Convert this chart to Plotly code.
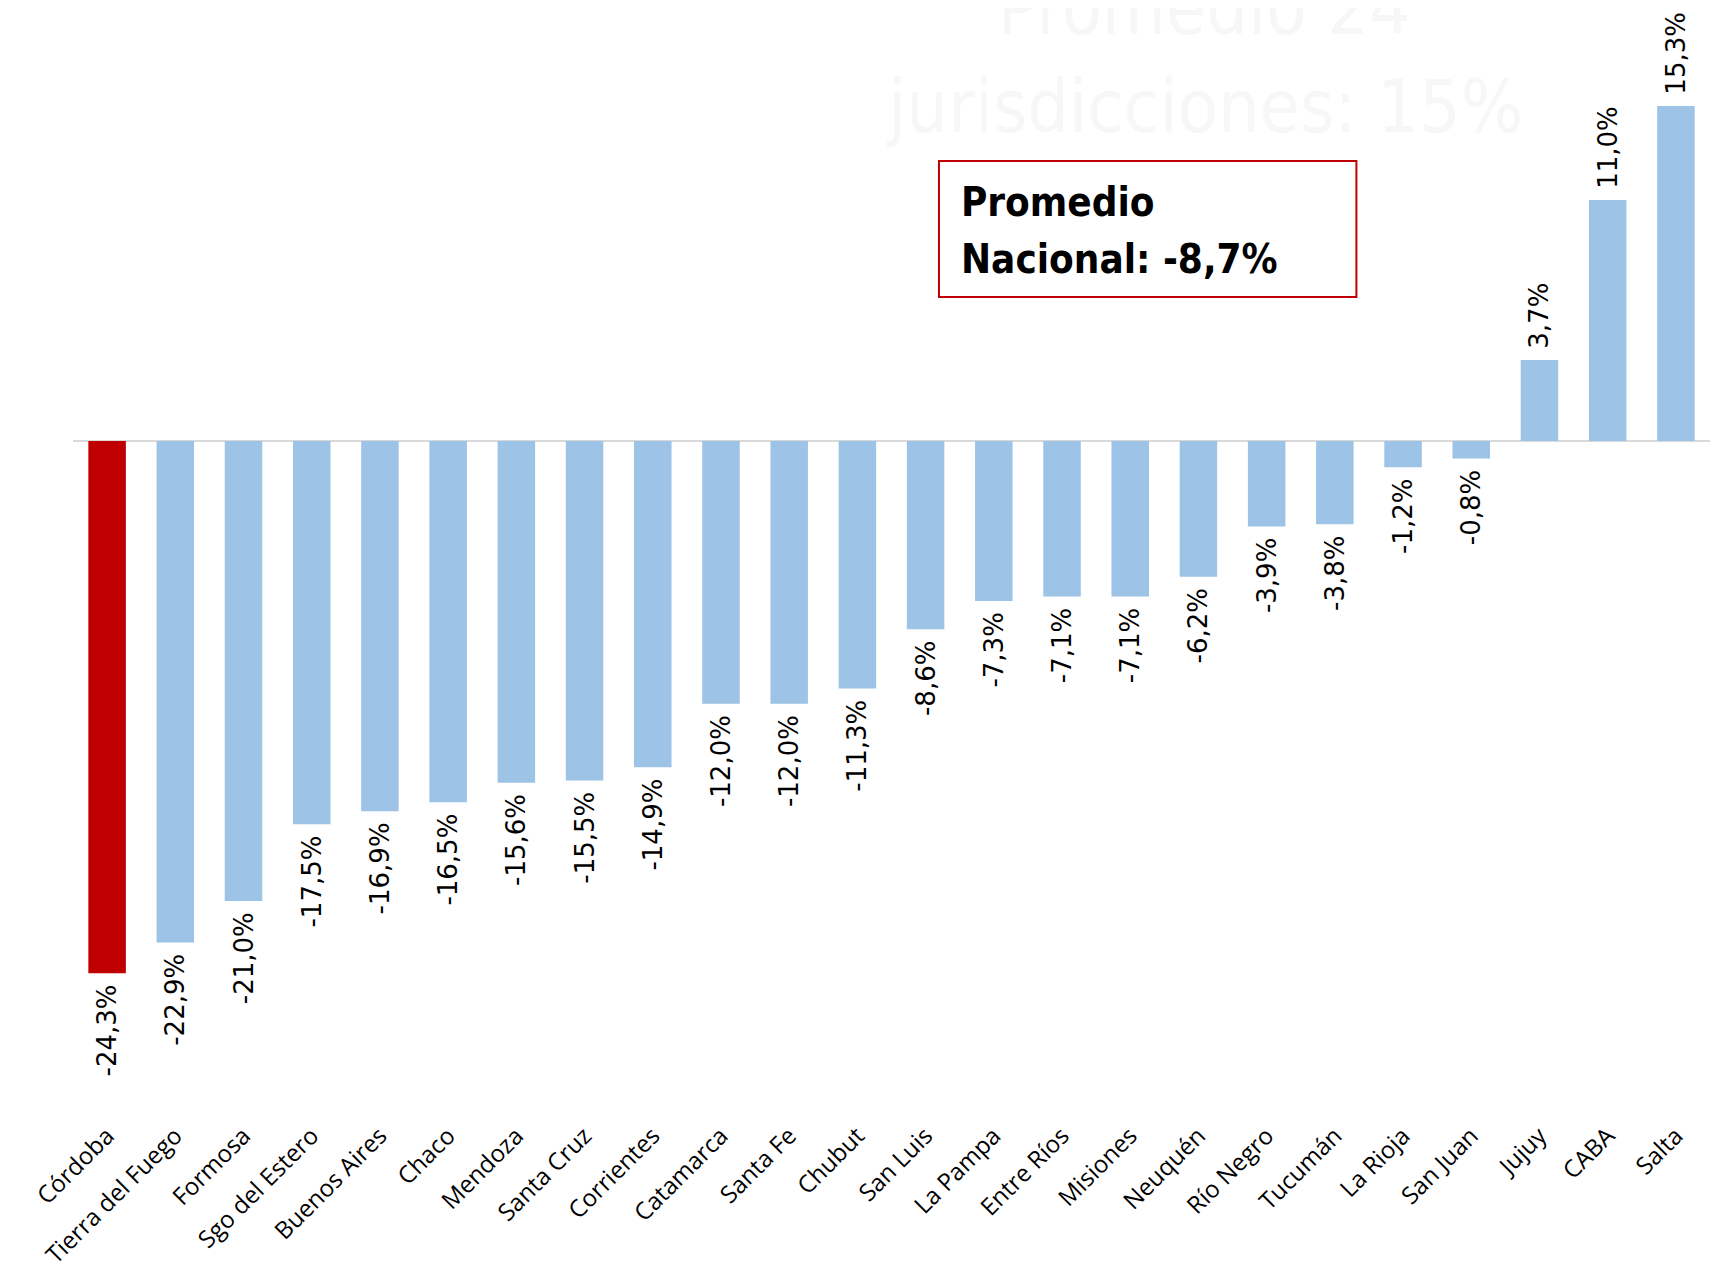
import plotly.graph_objects as go

provincias = ["Córdoba", "Tierra del Fuego", "Formosa", "Sgo del Estero", "Buenos Aires",
              "Chaco", "Mendoza", "Santa Cruz", "Corrientes", "Catamarca", "Santa Fe",
              "Chubut", "San Luis", "La Pampa", "Entre Ríos", "Misiones", "Neuquén",
              "Río Negro", "Tucumán", "La Rioja", "San Juan", "Jujuy", "CABA", "Salta"]
variacion = [-24.3, -22.9, -21.0, -17.5, -16.9, -16.5, -15.6, -15.5, -14.9, -12.0, -12.0,
             -11.3, -8.6, -7.3, -7.1, -7.1, -6.2, -3.9, -3.8, -1.2, -0.8, 3.7, 11.0, 15.3]
destacada = "Córdoba"
promedio_nacional = -8.7

AZUL = "#9dc3e6"
ROJO = "#c00000"
NARROW = "Liberation Sans Narrow, DejaVu Sans Condensed, sans-serif"

colores = [ROJO if p == destacada else AZUL for p in provincias]

def etiqueta(v):
    s = f"{v:.1f}".replace(".", ",") + "%"
    pad = "\u00a0"
    return (s + pad) if v < 0 else (pad + s)

textos = [etiqueta(v) for v in variacion]

fig = go.Figure(go.Bar(
    x=provincias, y=variacion,
    marker=dict(color=colores, line=dict(width=0)),
    width=0.55,
    text=textos, textposition="outside", textangle=-90,
    textfont=dict(family="DejaVu Sans", size=26, color="#000000"),
    constraintext="none", cliponaxis=False,
))

fig.update_layout(
    width=1730, height=1276,
    margin=dict(l=65, r=28, t=0, b=168),
    paper_bgcolor="white", plot_bgcolor="white",
    showlegend=False,
    xaxis=dict(tickangle=-45, tickfont=dict(family="Open Sans", size=24, color="#000000"),
               showgrid=False, showline=False, ticks="", automargin=False,
               range=[-0.5, len(provincias) - 0.5]),
    yaxis=dict(range=[-30.82, 19.77], showgrid=False, showticklabels=False, ticks="",
               automargin=False,
               zeroline=True, zerolinecolor="#d9d9d9", zerolinewidth=2, showline=False),
)

# faint watermark-like title text
fig.add_annotation(x=0.6915, y=1.0, xref="paper", yref="paper", xanchor="center", yanchor="bottom",
                   yshift=-45, text="Promedio 24", showarrow=False,
                   font=dict(family=NARROW, size=73, color="#f7f7f7"))
fig.add_annotation(x=0.6915, y=1.0, xref="paper", yref="paper", xanchor="center", yanchor="top",
                   yshift=-54, text="jurisdicciones: 15%", showarrow=False,
                   font=dict(family=NARROW, size=73, color="#f7f7f7"))

# Promedio nacional box
fig.add_shape(type="rect", xref="paper", yref="paper", x0=0.529, x1=0.784, y0=0.7392, y1=0.8619,
              line=dict(color=ROJO, width=2), fillcolor="rgba(0,0,0,0)")
fig.add_annotation(x=0.541, y=0.8249, xref="paper", yref="paper", xanchor="left", yanchor="middle",
                   align="left", showarrow=False, text="<b>Promedio</b>",
                   font=dict(family=NARROW, size=40, color="#000000"))
fig.add_annotation(x=0.541, y=0.7735, xref="paper", yref="paper", xanchor="left", yanchor="middle",
                   align="left", showarrow=False,
                   text="<b>Nacional: " + f"{promedio_nacional:.1f}".replace(".", ",") + "%</b>",
                   font=dict(family=NARROW, size=40, color="#000000"))

fig.write_html("out.html")
